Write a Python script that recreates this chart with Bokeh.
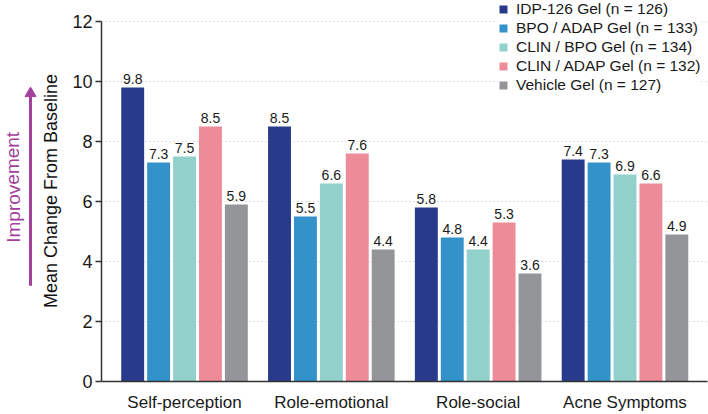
from bokeh.plotting import figure
from bokeh.layouts import row
from bokeh.models import ColumnDataSource, Legend, LegendItem, FixedTicker, Range1d
from bokeh.core.properties import value
from bokeh.embed import file_html
from bokeh.resources import INLINE

categories = ["Self-perception", "Role-emotional", "Role-social", "Acne Symptoms"]
series_names = ["IDP-126 Gel (n = 126)", "BPO / ADAP Gel (n = 133)", "CLIN / BPO Gel (n = 134)",
                "CLIN / ADAP Gel (n = 132)", "Vehicle Gel (n = 127)"]
idp126 = [9.8, 8.5, 5.8, 7.4]
bpo_adap = [7.3, 5.5, 4.8, 7.3]
clin_bpo = [7.5, 6.6, 4.4, 6.9]
clin_adap = [8.5, 7.6, 5.3, 6.6]
vehicle = [5.9, 4.4, 3.6, 4.9]
series_values = [idp126, bpo_adap, clin_bpo, clin_adap, vehicle]
colors = ["#283a8c", "#3292c9", "#92d0cc", "#ee8b99", "#949599"]
y_ticks = [0, 2, 4, 6, 8, 10, 12]

FONT = "Liberation Sans"
MAGENTA = "#a3409b"
H = 414

# ---- left strip: "Improvement" note with arrow (pixel-space helper figure)
side = figure(width=38, height=H, output_backend="svg", toolbar_location=None,
              x_range=Range1d(0, 38), y_range=Range1d(H, 0),
              min_border_left=0, min_border_right=0, min_border_top=0, min_border_bottom=0)
side.axis.visible = False
side.grid.visible = False
side.outline_line_color = None
side.text(x=[12.5], y=[203], text=["Improvement"], angle=1.5708, text_align="center",
          text_baseline="middle", text_font=value(FONT), text_font_size="19px", text_color=MAGENTA)
side.segment(x0=[30], y0=[310], x1=[30], y1=[104], line_color=MAGENTA, line_width=3)
side.scatter(x=[30], y=[101], marker="triangle", size=11, fill_color=MAGENTA, line_color=MAGENTA)

# ---- main chart (frame reaches the top edge so the legend is not clipped;
#      the y axis itself is bounded to 0..12)
x_start = -0.5655
x_end = 3.562
y_top = 12.698
p = figure(width=670, height=H, output_backend="svg", toolbar_location=None,
           x_range=Range1d(x_start, x_end), y_range=Range1d(0, y_top),
           min_border_left=61, min_border_right=1, min_border_top=0, min_border_bottom=32)
p.outline_line_color = None

step = 0.1765
bar_w = 0.156
renderers = []
for k, (name, vals, col) in enumerate(zip(series_names, series_values, colors)):
    xs = [i + (k - 2) * step for i in range(len(categories))]
    src = ColumnDataSource(dict(x=xs, top=vals, lab=[f"{v:.1f}" for v in vals]))
    r = p.vbar(x="x", top="top", width=bar_w, source=src, fill_color=col, line_color=None)
    p.text(x="x", y="top", text="lab", source=src, text_align="center", text_baseline="bottom",
           y_offset=-3, text_font_size="14px", text_color="#1a1a1a", text_font=value(FONT))
    renderers.append(r)

p.xaxis.ticker = FixedTicker(ticks=list(range(len(categories))))
p.xaxis.major_label_overrides = {i: c for i, c in enumerate(categories)}
p.xaxis.major_tick_out = 0
p.xaxis.major_tick_in = 0
p.xaxis.major_tick_line_color = None
p.xaxis.minor_tick_line_color = None
p.xaxis.major_label_standoff = 11
p.xaxis.major_label_text_font_size = "17px"
p.xaxis.major_label_text_font = FONT
p.xaxis.major_label_text_color = "#1a1a1a"
p.xaxis.axis_line_color = "#333333"
p.xaxis.axis_line_width = 1.5

p.yaxis.bounds = (0, 12)
p.yaxis.ticker = FixedTicker(ticks=y_ticks)
p.yaxis.major_tick_out = 6
p.yaxis.major_tick_in = 0
p.yaxis.minor_tick_line_color = None
p.yaxis.major_tick_line_color = "#333333"
p.yaxis.major_tick_line_width = 1.5
p.yaxis.major_label_standoff = 3
p.yaxis.major_label_text_font_size = "18px"
p.yaxis.major_label_text_font = FONT
p.yaxis.major_label_text_color = "#1a1a1a"
p.yaxis.axis_line_color = "#333333"
p.yaxis.axis_line_width = 1.5
p.yaxis.axis_label = "Mean Change From Baseline"
p.yaxis.axis_label_text_font = FONT
p.yaxis.axis_label_text_font_size = "18px"
p.yaxis.axis_label_text_font_style = "normal"
p.yaxis.axis_label_text_color = "#111111"
p.yaxis.axis_label_standoff = 8

p.xgrid.grid_line_color = None
p.ygrid.ticker = FixedTicker(ticks=y_ticks[1:])
p.ygrid.grid_line_color = "#c4c4c4"
p.ygrid.grid_line_dash = "1 3"
p.ygrid.grid_line_width = 1

items = [LegendItem(label=n, renderers=[r]) for n, r in zip(series_names, renderers)]
legend = Legend(items=items, location=(397, 287), padding=4, margin=0, spacing=1,
                glyph_width=10, glyph_height=10, label_height=17, label_standoff=8,
                label_text_font=FONT, label_text_font_size="15.5px", label_text_color="#1a1a1a",
                background_fill_color="white", background_fill_alpha=1.0, border_line_color=None)
p.add_layout(legend)

layout = row(side, p, spacing=0)
open("out.html", "w").write(file_html(layout, INLINE))
